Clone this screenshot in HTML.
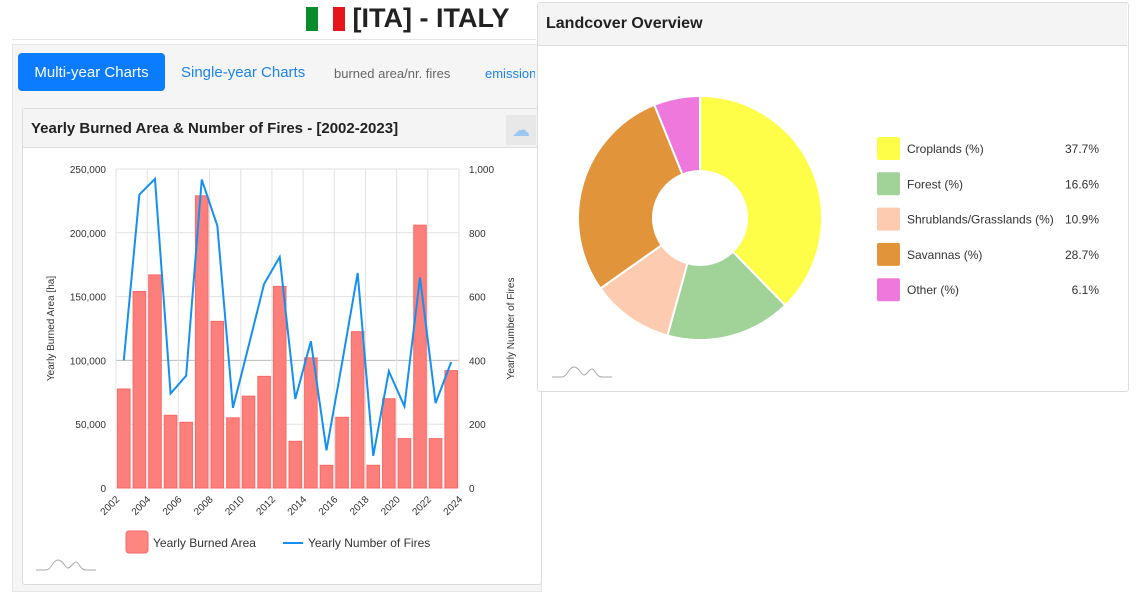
<!DOCTYPE html>
<html><head><meta charset="utf-8"><style>
body{margin:0;width:1138px;height:590px;background:#fff;font-family:"Liberation Sans",sans-serif;position:relative;overflow:hidden}
.abs{position:absolute}
</style></head><body>
<div class="abs" style="left:306px;top:0px;height:36px;font-size:27px;font-weight:bold;color:#222;line-height:36px;white-space:nowrap">
<span style="display:inline-block;width:12px;height:24px;background:#0a8c2a;vertical-align:-4px"></span><span style="display:inline-block;width:15px"></span><span style="display:inline-block;width:12px;height:24px;background:#e8141c;vertical-align:-4px"></span> [ITA] - ITALY</div>
<div class="abs" style="left:12px;top:39px;width:524px;height:1px;background:#e4e4e4"></div>
<div class="abs" style="left:12px;top:44px;width:528px;height:546px;background:#f5f5f5;border:1px solid #e6e6e6"></div>
<div class="abs" style="left:18px;top:53px;width:147px;height:38px;background:#0b7bff;border-radius:4px;color:#fff;font-size:15px;line-height:40px;text-align:center">Multi-year Charts</div>
<div class="abs" style="left:181px;top:53px;height:38px;color:#1b84f0;font-size:15px;line-height:40px">Single-year Charts</div>
<div class="abs" style="left:334px;top:53px;height:38px;color:#666;font-size:13px;line-height:42px">burned area/nr. fires</div>
<div class="abs" style="left:485px;top:53px;width:50px;overflow:hidden;height:38px;color:#1b84f0;font-size:13px;line-height:42px">emissions</div>
<div class="abs" style="left:22px;top:108px;width:518px;height:475px;background:#fff;border:1px solid #ddd;border-radius:3px"></div>
<div class="abs" style="left:23px;top:109px;width:517px;height:38px;background:#f4f4f4;border-bottom:1px solid #ddd"></div>
<div class="abs" style="left:31px;top:120px;font-size:15px;font-weight:bold;color:#222">Yearly Burned Area &amp; Number of Fires - [2002-2023]</div>
<div class="abs" style="left:506px;top:115px;width:30px;height:30px;background:#e8e8e8;color:#9cc7f0;font-size:18px;text-align:center;line-height:30px">☁</div>

<div class="abs" style="left:537px;top:2px;width:590px;height:388px;background:#fff;border:1px solid #ddd;border-radius:3px"></div>
<div class="abs" style="left:538px;top:3px;width:589px;height:42px;background:#f4f4f4;border-bottom:1px solid #ddd"></div>
<div class="abs" style="left:546px;top:15px;font-size:16px;font-weight:bold;color:#222">Landcover Overview</div>

<svg class="abs" style="left:0;top:0" width="1138" height="590" id="svg"></svg>
<script>
const years=[2002,2003,2004,2005,2006,2007,2008,2009,2010,2011,2012,2013,2014,2015,2016,2017,2018,2019,2020,2021,2022,2023];
const burned=[77600,154000,167000,57000,51500,229000,130600,55000,72000,87500,158000,36600,102000,17800,55400,122500,17800,70000,38700,206000,38700,92000];
const fires=[400,920,969,296,352,967,822,251,444,640,724,279,460,118,392,674,101,366,256,660,266,395];
const leftTicks=[0,50000,100000,150000,200000,250000];
const rightTicks=[0,200,400,600,800,1000];
const xTicks=[2002,2004,2006,2008,2010,2012,2014,2016,2018,2020,2022,2024];
const lcLabels=["Croplands (%)","Forest (%)","Shrublands/Grasslands (%)","Savannas (%)","Other (%)"];
const lcValues=[37.7,16.6,10.9,28.7,6.1];
const lcColors=["#fefe48","#a1d398","#fdcbb0","#e2943a","#ee78db"];

const NS="http://www.w3.org/2000/svg",svg=document.getElementById('svg');
function mk(t,a,p){const e=document.createElementNS(NS,t);for(const k in a)e.setAttribute(k,a[k]);(p||svg).appendChild(e);return e;}
const X0=116,X1=459,Y0=488,Y1=169;
const xs=y=>X0+(y-2002)/(2024-2002)*(X1-X0);
const yl=v=>Y0-v/250000*(Y0-Y1);
const yr=v=>Y0-v/1000*(Y0-Y1);
const fmt=v=>v.toLocaleString('en-US');
leftTicks.forEach((t,i)=>{
 const g=mk('line',{x1:X0,x2:X1,y1:yl(t),y2:yl(t),stroke:t===100000?'#bbb':'#e2e2e2'});
 
 const a=mk('text',{x:X0-10,y:yl(t)+4,'text-anchor':'end','font-size':10,fill:'#333'});a.textContent=fmt(t);
 
 const b=mk('text',{x:X1+10,y:yr(rightTicks[i])+4,'font-size':10,fill:'#333'});b.textContent=fmt(rightTicks[i]);
 
});
xTicks.forEach(t=>{
 const l=mk('line',{x1:xs(t),x2:xs(t),y1:Y1,y2:Y0,stroke:'#e2e2e2'});
 
 const x=mk('text',{x:xs(t)+4,y:Y0+12,'text-anchor':'end','font-size':10,fill:'#333',transform:`rotate(-45 ${xs(t)+4} ${Y0+12})`});x.textContent=t;
 
});
const slot=(X1-X0)/22;
years.forEach((y,i)=>{
 const r=mk('rect',{x:xs(y)+1.5,y:yl(burned[i]),width:slot-3,height:Y0-yl(burned[i]),fill:'#fd7f7b',stroke:'#f86a66','stroke-width':1});
 
});
const pl=mk('polyline',{points:years.map((y,i)=>`${xs(y)+slot/2},${yr(fires[i])}`).join(' '),fill:'none',stroke:'#1590f0','stroke-width':2});

const ya=mk('text',{x:0,y:0,'font-size':10,fill:'#333','text-anchor':'middle',transform:`translate(54 ${(Y0+Y1)/2}) rotate(-90)`});ya.textContent='Yearly Burned Area [ha]';

const yb=mk('text',{x:0,y:0,'font-size':10,fill:'#333','text-anchor':'middle',transform:`translate(514 ${(Y0+Y1)/2}) rotate(-90)`});yb.textContent='Yearly Number of Fires';

// legend
const lr=mk('rect',{x:126,y:531,width:22,height:22,rx:3,fill:'#fd8681',stroke:'#f86a66'});

const lt=mk('text',{x:153,y:547,'font-size':12,fill:'#333'});lt.textContent='Yearly Burned Area';

const ll=mk('line',{x1:283,x2:303,y1:543,y2:543,stroke:'#1590f0','stroke-width':2});

const lt2=mk('text',{x:308,y:547,'font-size':12,fill:'#333'});lt2.textContent='Yearly Number of Fires';

// logos
[[36,570],[552,377]].forEach(([x,y])=>{
 const p=mk('path',{d:`M${x} ${y}h10c5,0 7,-10 12,-10s7,8 10,8s5,-6 8,-6s4,8 10,8h10`,fill:'none',stroke:'#aaa','stroke-width':1});
 
});
// donut
const CX=700,CY=218,R=122,RI=47;
const tot=lcValues.reduce((a,b)=>a+b,0);let ang=0;
lcValues.forEach((v,i)=>{
 const a0=ang,a1=ang+v/tot*2*Math.PI;ang=a1;
 const pt=(r,a)=>`${CX+r*Math.sin(a)},${CY-r*Math.cos(a)}`;const lg=(a1-a0)>Math.PI?1:0;
 const s=mk('path',{d:`M${pt(R,a0)}A${R},${R} 0 ${lg} 1 ${pt(R,a1)}L${pt(RI,a1)}A${RI},${RI} 0 ${lg} 0 ${pt(RI,a0)}Z`,fill:lcColors[i],stroke:'#fff','stroke-width':2});
 
 const y=137+i*35.3;
 const sw=mk('rect',{x:877,y:y,width:23,height:23,rx:2,fill:lcColors[i]});
 
 const t=mk('text',{x:907,y:y+16,'font-size':12,fill:'#333'});t.textContent=lcLabels[i];
 
 const tv=mk('text',{x:1099,y:y+16,'font-size':12,fill:'#333','text-anchor':'end'});tv.textContent=v.toFixed(1)+'%';
 
});
</script>
</body></html>
